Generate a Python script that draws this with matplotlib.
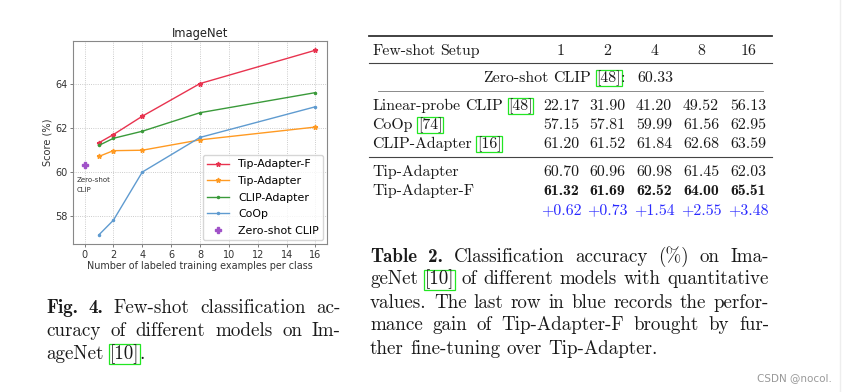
import matplotlib
matplotlib.use("Agg")
import matplotlib.pyplot as plt
from matplotlib.lines import Line2D
from matplotlib.patches import Rectangle

W, H = 847, 392

shots = [1, 2, 4, 8, 16]
tip_adapter_f = [61.32, 61.69, 62.52, 64.00, 65.51]
tip_adapter = [60.70, 60.96, 60.98, 61.45, 62.03]
clip_adapter = [61.20, 61.52, 61.84, 62.68, 63.59]
coop = [57.15, 57.81, 59.99, 61.56, 62.95]
linear_probe = [22.17, 31.90, 41.20, 49.52, 56.13]
gain = [0.62, 0.73, 1.54, 2.55, 3.48]
zero_shot = 60.33

TXT = '#1a1a1a'
GREEN = '#22e622'
BLUE = '#2a2aff'

fig = plt.figure(figsize=(W / 100, H / 100), dpi=100)
renderer = fig.canvas.get_renderer()


def fx(x):
    return x / W


def fy(y):
    return 1 - y / H


# ---------------- chart ----------------
ax = fig.add_axes([fx(73), fy(244), (327 - 73) / W, (244 - 41) / H])
ax.plot(shots, tip_adapter_f, color='#e8334f', marker='*', ms=3.5, lw=1, label='Tip-Adapter-F')
ax.plot(shots, tip_adapter, color='#ff9a22', marker='*', ms=3.5, lw=1, label='Tip-Adapter')
ax.plot(shots, clip_adapter, color='#3a9a3a', marker='.', ms=3, lw=1, label='CLIP-Adapter')
ax.plot(shots, coop, color='#5f9bd0', marker='.', ms=3, lw=1, label='CoOp')
ax.plot([0], [zero_shot], ls='none', marker='P', ms=4.5, color='#a052c8', label='Zero-shot CLIP')
ax.text(-0.55, 59.78, 'Zero-shot\nCLIP', fontsize=5, color='#333', va='top', ha='left', linespacing=1.85)

ax.set_xticks(range(0, 17, 2))
ax.set_yticks([58, 60, 62, 64])
ax.grid(ls=':', color='#bbbbbb', lw=0.6)
ax.tick_params(labelsize=7, labelcolor='#333', color='#666', length=2.5, width=0.6, pad=1.5)
for s in ax.spines.values():
    s.set_color('#888')
    s.set_linewidth(0.8)
ax.set_title('ImageNet', fontsize=8.3, color='#222', pad=3)
ax.set_xlabel('Number of labeled training examples per class', fontsize=6.95, color='#333', labelpad=1)
ax.set_ylabel('Score (%)', fontsize=7.1, color='#333', labelpad=1.5)
leg = ax.legend(loc='lower right', fontsize=7.9, handlelength=2.0, labelspacing=0.6,
                borderaxespad=0.35, fancybox=True)
leg.get_frame().set_edgecolor('#ccc')


# ---------------- text helpers ----------------
def width_of(s, family, size):
    t = fig.text(0, 0, s, fontfamily=family, fontsize=size)
    w = t.get_window_extent(renderer).width
    t.remove()
    return w


def cite_box(x0, x1, base, size):
    em = size * 100 / 72
    top = base - 0.78 * em
    bot = base + 0.27 * em
    fig.add_artist(Rectangle((fx(x0 - 0.5), fy(bot)), (x1 - x0 + 1) / W, (bot - top) / H,
                             transform=fig.transFigure, fill=False, ec=GREEN, lw=0.9))


def draw_line(x, base, words, size, width=None, color=TXT):
    # words: list of words, each a list of (text, style) pieces glued together
    meas = []
    for word in words:
        pieces = []
        for text, style in word:
            fam = 'cmb10' if style == 'b' else 'cmr10'
            pieces.append((text, style, fam, width_of(text, fam, size)))
        meas.append(pieces)
    total = sum(p[3] for w in meas for p in w)
    if width is not None and len(words) > 1:
        gap = (width - total) / (len(words) - 1)
    else:
        gap = 0.333 * size * 100 / 72
    cx = x
    for pieces in meas:
        for text, style, fam, w in pieces:
            fig.text(fx(cx), fy(base), text, fontfamily=fam, fontsize=size, color=color,
                     ha='left', va='baseline')
            if style == 'c':
                cite_box(cx, cx + w, base, size)
            cx += w
        cx += gap
    return cx


def plain(line):
    return [[(w, 'r')] for w in line.split()]


# ---------------- table ----------------
TS = 11.4
cols = [561, 607, 654, 701, 748]
lines = [(35.7, 369, 772, 1.3, '#333'), (63.3, 369, 772, 0.8, '#444'),
         (91, 378, 763, 0.6, '#777'), (156.7, 369, 772, 0.8, '#444')]
for y, x0, x1, lw, c in lines:
    fig.add_artist(Line2D([fx(x0), fx(x1)], [fy(y), fy(y)], transform=fig.transFigure, color=c, lw=lw))

draw_line(372, 55, plain('Few-shot Setup'), TS)
for cx, s in zip(cols, shots):
    fig.text(fx(cx), fy(55), str(s), fontfamily='cmr10', fontsize=TS, color=TXT, ha='center', va='baseline')

end = draw_line(483, 82, [[('Zero-shot', 'r')], [('CLIP', 'r')], [('[48]', 'c'), (':', 'r')]], TS)
fig.text(fx(end + 7), fy(82), f'{zero_shot:.2f}', fontfamily='cmr10', fontsize=TS, color=TXT, va='baseline')

rows = [
    (110, [[('Linear-probe', 'r')], [('CLIP', 'r')], [('[48]', 'c')]], linear_probe, 'cmr10', TXT),
    (129, [[('CoOp', 'r')], [('[74]', 'c')]], coop, 'cmr10', TXT),
    (148, [[('CLIP-Adapter', 'r')], [('[16]', 'c')]], clip_adapter, 'cmr10', TXT),
    (176, [[('Tip-Adapter', 'r')]], tip_adapter, 'cmr10', TXT),
    (195, [[('Tip-Adapter-F', 'r')]], tip_adapter_f, 'cmb10', TXT),
]
for base, label, vals, fam, c in rows:
    draw_line(372, base, label, TS)
    for cx, v in zip(cols, vals):
        fig.text(fx(cx), fy(base), f'{v:.2f}', fontfamily=fam, fontsize=TS, color=c, ha='center', va='baseline')
for cx, v in zip(cols, gain):
    fig.text(fx(cx), fy(214), f'+{v:.2f}', fontfamily='cmr10', fontsize=TS, color=BLUE, ha='center', va='baseline')

# ---------------- captions ----------------
CS = 13.7
fig_cap = [
    ([[('Fig.', 'b')], [('4.', 'b')]] + plain('Few-shot classification ac-'), True),
    (plain('curacy of different models on Im-'), True),
    ([[('ageNet', 'r')], [('[10]', 'c'), ('.', 'r')]], False),
]
for i, (words, just) in enumerate(fig_cap):
    draw_line(46, 313 + 23 * i, words, CS, width=295 if just else None)

tab_cap = [
    ([[('Table', 'b')], [('2.', 'b')]] + plain('Classification accuracy (%) on Ima-'), True),
    ([[('geNet', 'r')], [('[10]', 'c')]] + plain('of different models with quantitative'), True),
    (plain('values. The last row in blue records the perfor-'), True),
    (plain('mance gain of Tip-Adapter-F brought by fur-'), True),
    (plain('ther fine-tuning over Tip-Adapter.'), False),
]
for i, (words, just) in enumerate(tab_cap):
    draw_line(370, 261.5 + 23 * i, words, CS, width=399 if just else None)

fig.text(fx(832), fy(378), 'CSDN @nocol.', fontsize=7.5, color='#999', ha='right', va='center')
fig.add_artist(Line2D([fx(840), fx(840)], [0, 1], transform=fig.transFigure, color='#eeeeee', lw=1))

fig.savefig('out.png', dpi=100)
